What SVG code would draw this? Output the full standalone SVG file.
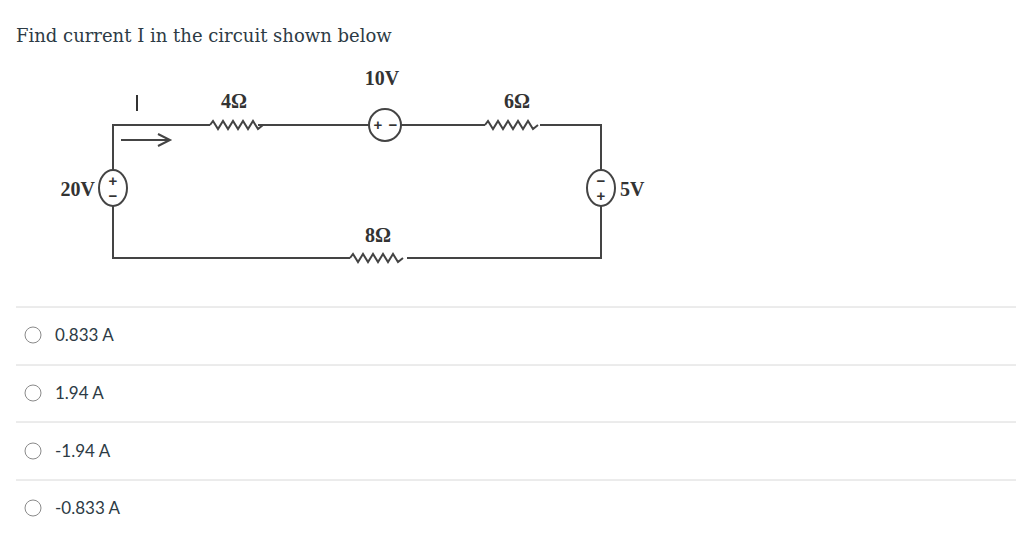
<svg xmlns="http://www.w3.org/2000/svg" width="1024" height="550" viewBox="0 0 1024 550">
<style>
.w{fill:none;stroke:#444;stroke-width:2}
.lb{font-family:"Liberation Serif",serif;font-size:20px;font-weight:bold;fill:#333}
.sg{font-family:"Liberation Sans",sans-serif;font-size:15px;font-weight:bold;fill:#333}
.op{font-family:Lato,"Liberation Sans",sans-serif;font-size:17px;fill:#2d3b45}
.rd{fill:#fff;stroke:#8a8a8a;stroke-width:1}
.ln{stroke:#d8d8d8;stroke-width:1}
</style>
<rect width="1024" height="550" fill="#fff"/>
<text x="16" y="42" font-family="'DejaVu Serif','Liberation Serif',serif" font-size="18" fill="#2d3b45">Find current I in the circuit shown below</text>
<g id="connectors">
<path class="w" d="M113,170 V125 H210 M258,125 H369 M401,125 H485 M540,125 H601 V170 M601,206 V258 H407 M350,258 H113 V206"/>
<path class="w" d="M121,140 H168 M158,134 L170,140 L158,146"/>
</g>
<g id="R4"><path class="w" d="M210,125 l3,-4 l5,8 l5,-8 l5,8 l5,-8 l5,8 l5,-8 l5,8 l5,-8 l5,8 l5,-4"/><text class="lb" x="234" y="108" text-anchor="middle">4Ω</text></g>
<g id="R6"><path class="w" d="M485,125 l3,-4 l5,8 l5,-8 l5,8 l5,-8 l5,8 l5,-8 l5,8 l5,-8 l5,8 l5,-4"/><text class="lb" x="517" y="108" text-anchor="middle">6Ω</text></g>
<g id="R8"><path class="w" d="M350,258 l3,-4 l5,8 l5,-8 l5,8 l5,-8 l5,8 l5,-8 l5,8 l5,-8 l5,8 l5,-4"/><text class="lb" x="378" y="242" text-anchor="middle">8Ω</text></g>
<g id="V10"><circle class="w" cx="385" cy="125" r="16"/><text class="sg" x="378" y="130" text-anchor="middle">+</text><text class="sg" x="393" y="130" text-anchor="middle">−</text><text class="lb" x="382" y="85" text-anchor="middle">10V</text></g>
<g id="V20"><ellipse class="w" cx="113" cy="188" rx="14" ry="18"/><text class="sg" x="113" y="186" text-anchor="middle">+</text><text class="sg" x="113" y="201" text-anchor="middle">−</text><text class="lb" x="95" y="196" text-anchor="end">20V</text></g>
<g id="V5"><ellipse class="w" cx="601" cy="188" rx="14" ry="18"/><text class="sg" x="601" y="186" text-anchor="middle">−</text><text class="sg" x="601" y="201" text-anchor="middle">+</text><text class="lb" x="620" y="196">5V</text></g>
<g id="Ilabel"><line x1="137" y1="95" x2="137" y2="111" stroke="#333" stroke-width="2"/></g>
<g id="options">
<line class="ln" x1="16" y1="307" x2="1016" y2="307"/>
<line class="ln" x1="16" y1="365" x2="1016" y2="365"/>
<line class="ln" x1="16" y1="422" x2="1016" y2="422"/>
<line class="ln" x1="16" y1="480" x2="1016" y2="480"/>
<circle class="rd" cx="33" cy="335" r="8"/><text class="op" x="55" y="341">0.833 A</text>
<circle class="rd" cx="33" cy="393" r="8"/><text class="op" x="55" y="399">1.94 A</text>
<circle class="rd" cx="33" cy="451" r="8"/><text class="op" x="55" y="457">-1.94 A</text>
<circle class="rd" cx="33" cy="508" r="8"/><text class="op" x="55" y="514">-0.833 A</text>
</g>
</svg>
